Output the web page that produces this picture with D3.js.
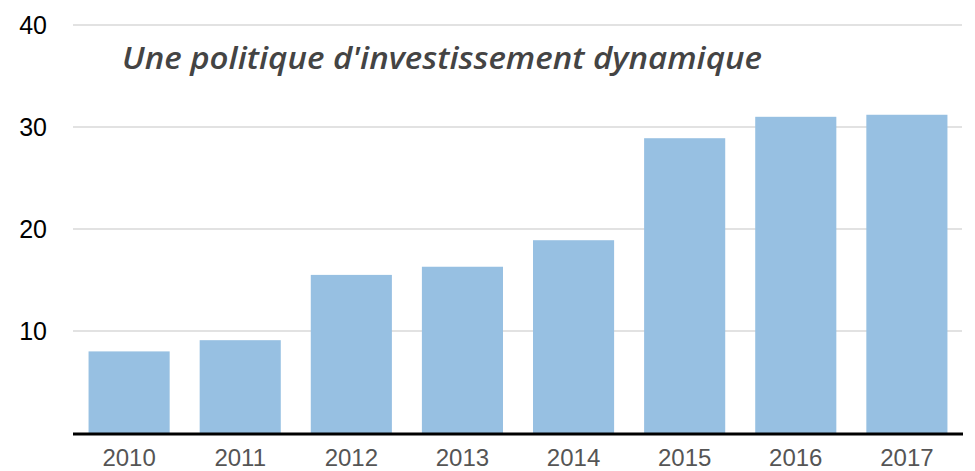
<!DOCTYPE html>
<html>
<head>
<meta charset="utf-8">
<script src="https://cdn.jsdelivr.net/npm/d3@7"></script>
<style>
    body { margin: 0; background: #fff; }
    svg { display: block; }
</style>
</head>
<body>
<svg id="chart"></svg>
<script>
let years = ['2010', '2011', '2012', '2013', '2014', '2015', '2016', '2017'];
let values = [8.0, 9.1, 15.5, 16.3, 18.9, 28.9, 31.0, 31.2];
let yTicks = [10, 20, 30, 40];
let title = "Une politique d'investissement dynamique";

let width = 975;
let height = 471;
let plotLeft = 73, plotRight = 963, plotTop = 25, plotBottom = 433;

let svg = d3.select('#chart')
    .attr('width', width)
    .attr('height', height);

let xScale = d3.scaleBand()
    .domain(years)
    .range([plotLeft, plotRight])
    .paddingInner(0.27)
    .paddingOuter(0.14);

let yScale = d3.scaleLinear()
    .domain([0, 40])
    .range([plotBottom, plotTop]);

// gridlines
svg.append('g')
    .selectAll('line')
    .data(yTicks)
    .enter().append('line')
    .attr('x1', plotLeft)
    .attr('x2', plotRight - 1)
    .attr('y1', d => yScale(d))
    .attr('y2', d => yScale(d))
    .attr('stroke', '#d9d9d9')
    .attr('stroke-width', 1.5);

// y labels
svg.append('g')
    .selectAll('text')
    .data(yTicks)
    .enter().append('text')
    .attr('x', 47)
    .attr('y', d => yScale(d))
    .attr('dy', '0.36em')
    .attr('text-anchor', 'end')
    .style('font-family', '"Liberation Sans", Arial, sans-serif')
    .style('font-size', '25px')
    .style('fill', '#000')
    .text(d => d);

// bars
svg.append('g')
    .selectAll('rect')
    .data(values)
    .enter().append('rect')
    .attr('x', (d, i) => xScale(years[i]))
    .attr('y', d => yScale(d))
    .attr('width', xScale.bandwidth())
    .attr('height', d => yScale(0) - yScale(d))
    .attr('fill', '#97c0e2');

// baseline
svg.append('line')
    .attr('x1', plotLeft)
    .attr('x2', plotRight)
    .attr('y1', yScale(0) + 1)
    .attr('y2', yScale(0) + 1)
    .attr('stroke', '#000')
    .attr('stroke-width', 3);

// x labels (kept just inside the bottom edge)
svg.append('g')
    .selectAll('text')
    .data(years)
    .enter().append('text')
    .attr('x', d => xScale(d) + xScale.bandwidth() / 2)
    .attr('y', 465.5)
    .attr('text-anchor', 'middle')
    .style('font-family', '"Liberation Sans", Arial, sans-serif')
    .style('font-size', '24px')
    .style('fill', '#555')
    .text(d => d);

// title
svg.append('text')
    .attr('x', 122)
    .attr('y', 69)
    .attr('textLength', 640)
    .attr('lengthAdjust', 'spacingAndGlyphs')
    .style('font-family', '"Open Sans", sans-serif')
    .style('font-size', '31px')
    .style('font-weight', 600)
    .style('font-style', 'italic')
    .style('fill', '#444')
    .text(title);
</script>
</body>
</html>
